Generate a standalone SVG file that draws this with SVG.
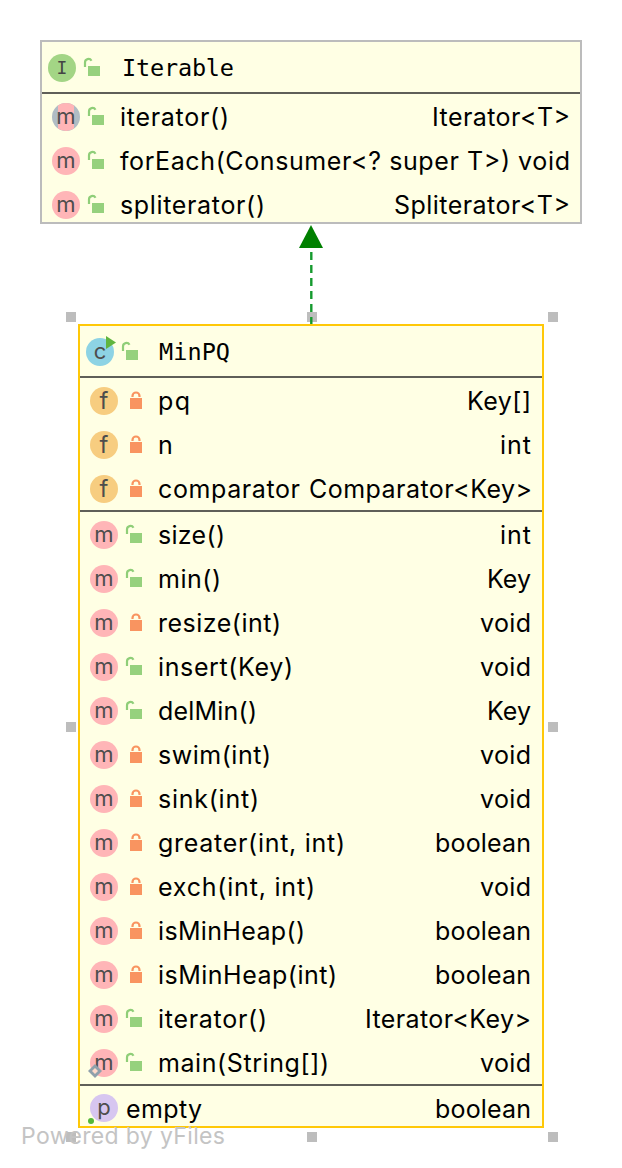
<svg xmlns="http://www.w3.org/2000/svg" width="622" height="1168" viewBox="0 0 622 1168">
<style>
.box{fill:#ffffe4}
.sep{stroke:#5f5f58;stroke-width:2;fill:none}
.t{font-family:"Inter","Liberation Sans",sans-serif;font-size:25px;fill:#000}
.h{font-family:"DejaVu Sans Mono","Liberation Mono",monospace;font-size:23.5px;fill:#000}
.g{font-family:"Inter","Liberation Sans",sans-serif;font-size:22px;fill:#4d4d4d;text-anchor:middle}
.hd{fill:#bdbdbd}
</style>
<defs>
<g id="pub"><path d="M-7 -1V-5.500a3.500 3.500 0 0 1 6.500 -1.800" fill="none" stroke="#8fce78" stroke-width="2.200"/><rect x="-4" y="-2" width="12" height="10" fill="#96d17d"/></g>
<g id="pri"><path d="M-3.500 -4V-5a3.500 3.500 0 0 1 7 0V-4" fill="none" stroke="#f99460" stroke-width="2.200"/><rect x="-6" y="-3" width="12" height="11" fill="#f99460"/></g>
<g id="m"><circle r="14" fill="#ffb5b7"/><text class="g" y="7">m</text></g>
<g id="f"><circle r="14" fill="#f7cd80"/><text class="g" y="8" style="font-size:24px">f</text></g>
<clipPath id="mid"><rect x="58" y="100" width="16" height="34"/></clipPath>
</defs>

<g id="handles">
<rect class="hd" x="66" y="312" width="10" height="10"/>
<rect class="hd" x="307" y="312" width="10" height="10"/>
<rect class="hd" x="548" y="312" width="10" height="10"/>
<rect class="hd" x="66" y="722" width="10" height="10"/>
<rect class="hd" x="548" y="722" width="10" height="10"/>
<rect class="hd" x="66" y="1132" width="10" height="10"/>
<rect class="hd" x="307" y="1132" width="10" height="10"/>
<rect class="hd" x="548" y="1132" width="10" height="10"/>
</g>

<g id="connectors">
<path d="M311.300 325V248" fill="none" stroke="#159a2e" stroke-width="2.400" stroke-dasharray="8 5"/>
<polygon points="311,225 299,248 323,248" fill="#008000"/>
</g>

<g id="Iterable">
<rect class="box" x="41" y="41" width="540" height="182" stroke="#bcbcbc" stroke-width="2"/>
<path class="sep" d="M42 93H580"/>
<circle cx="62" cy="68" r="14" fill="#a3d585"/>
<text class="h" x="62" y="74" text-anchor="middle" style="font-size:18px;fill:#444">I</text>
<use href="#pub" x="92" y="68"/>
<text class="h" x="122" y="76" textLength="112">Iterable</text>
<circle cx="66" cy="117" r="14" fill="#b0bcc4"/>
<circle cx="66" cy="117" r="14" fill="#ffb5b7" clip-path="url(#mid)"/>
<text class="g" x="66" y="124">m</text>
<use href="#pub" x="96" y="117"/>
<text class="t" x="120" y="126" textLength="109">iterator()</text>
<text class="t" x="432" y="126" textLength="138">Iterator&lt;T&gt;</text>
<use href="#m" x="66" y="161"/>
<use href="#pub" x="96" y="161"/>
<text class="t" x="120" y="170" textLength="390">forEach(Consumer&lt;? super T&gt;)</text>
<text class="t" x="518" y="170" textLength="52">void</text>
<use href="#m" x="66" y="205"/>
<use href="#pub" x="96" y="205"/>
<text class="t" x="120" y="214" textLength="145">spliterator()</text>
<text class="t" x="394" y="214" textLength="176">Spliterator&lt;T&gt;</text>
</g>

<g id="MinPQ">
<rect class="box" x="79" y="325" width="464" height="802" stroke="#ffc808" stroke-width="2"/>
<path class="sep" d="M80 377H542"/>
<path class="sep" d="M80 511H542"/>
<path class="sep" d="M80 1085H542"/>
<circle cx="100" cy="352" r="14" fill="#8dd3e4"/>
<text class="g" x="100" y="359">c</text>
<polygon points="106,336 116,342.500 106,349" fill="#60b53f"/>
<use href="#pub" x="130" y="352"/>
<text class="h" x="159" y="360" textLength="71">MinPQ</text>

<use href="#f" x="104" y="401"/><use href="#pri" x="136" y="401"/>
<text class="t" x="158" y="410" textLength="32">pq</text><text class="t" x="467" y="410" textLength="64">Key[]</text>
<use href="#f" x="104" y="445"/><use href="#pri" x="136" y="445"/>
<text class="t" x="158" y="454" textLength="14">n</text><text class="t" x="500" y="454" textLength="31">int</text>
<use href="#f" x="104" y="489"/><use href="#pri" x="136" y="489"/>
<text class="t" x="158" y="498" textLength="142">comparator</text><text class="t" x="309" y="498" textLength="223">Comparator&lt;Key&gt;</text>

<use href="#m" x="104" y="535"/><use href="#pub" x="134" y="535"/>
<text class="t" x="158" y="544" textLength="67">size()</text><text class="t" x="500" y="544" textLength="31">int</text>
<use href="#m" x="104" y="579"/><use href="#pub" x="134" y="579"/>
<text class="t" x="158" y="588" textLength="63">min()</text><text class="t" x="487" y="588" textLength="44">Key</text>
<use href="#m" x="104" y="623"/><use href="#pri" x="136" y="623"/>
<text class="t" x="158" y="632" textLength="123">resize(int)</text><text class="t" x="480" y="632" textLength="51">void</text>
<use href="#m" x="104" y="667"/><use href="#pub" x="134" y="667"/>
<text class="t" x="158" y="676" textLength="135">insert(Key)</text><text class="t" x="480" y="676" textLength="51">void</text>
<use href="#m" x="104" y="711"/><use href="#pub" x="134" y="711"/>
<text class="t" x="158" y="720" textLength="99">delMin()</text><text class="t" x="487" y="720" textLength="44">Key</text>
<use href="#m" x="104" y="755"/><use href="#pri" x="136" y="755"/>
<text class="t" x="158" y="764" textLength="113">swim(int)</text><text class="t" x="480" y="764" textLength="51">void</text>
<use href="#m" x="104" y="799"/><use href="#pri" x="136" y="799"/>
<text class="t" x="158" y="808" textLength="101">sink(int)</text><text class="t" x="480" y="808" textLength="51">void</text>
<use href="#m" x="104" y="843"/><use href="#pri" x="136" y="843"/>
<text class="t" x="158" y="852" textLength="187">greater(int, int)</text><text class="t" x="435" y="852" textLength="96">boolean</text>
<use href="#m" x="104" y="887"/><use href="#pri" x="136" y="887"/>
<text class="t" x="158" y="896" textLength="157">exch(int, int)</text><text class="t" x="480" y="896" textLength="51">void</text>
<use href="#m" x="104" y="931"/><use href="#pri" x="136" y="931"/>
<text class="t" x="158" y="940" textLength="147">isMinHeap()</text><text class="t" x="435" y="940" textLength="96">boolean</text>
<use href="#m" x="104" y="975"/><use href="#pri" x="136" y="975"/>
<text class="t" x="158" y="984" textLength="179">isMinHeap(int)</text><text class="t" x="435" y="984" textLength="96">boolean</text>
<use href="#m" x="104" y="1019"/><use href="#pub" x="134" y="1019"/>
<text class="t" x="158" y="1028" textLength="109">iterator()</text><text class="t" x="365" y="1028" textLength="166">Iterator&lt;Key&gt;</text>
<use href="#m" x="104" y="1063"/><use href="#pub" x="134" y="1063"/>
<polygon points="95,1064 102,1071 95,1078 88,1071" fill="#8fa0ab"/><polygon points="95,1068 98,1071 95,1074 92,1071" fill="#ffd9c9"/>
<text class="t" x="158" y="1072" textLength="171">main(String[])</text><text class="t" x="480" y="1072" textLength="51">void</text>

<circle cx="104" cy="1108" r="14" fill="#d7c6f0"/>
<text class="g" x="104" y="1115">p</text>
<circle cx="91" cy="1121" r="3" fill="#55b838"/>
<text class="t" x="126" y="1118" textLength="76">empty</text><text class="t" x="435" y="1118" textLength="96">boolean</text>
</g>

<text x="21" y="1144" font-family="Inter,'Liberation Sans',sans-serif" font-size="23" fill="#c4c4c4" textLength="204">Powered by yFiles</text>
</svg>
